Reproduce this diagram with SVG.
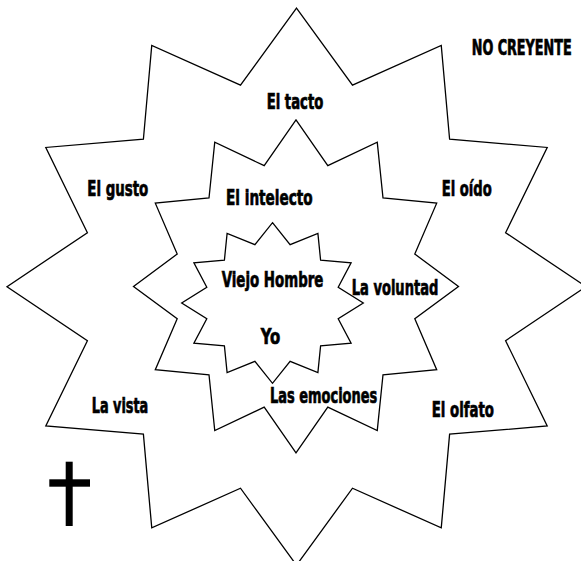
<svg xmlns="http://www.w3.org/2000/svg" width="581" height="561" viewBox="0 0 581 561">
  <style>
    .star { fill: #ffffff; stroke: #000000; stroke-width: 1.3; stroke-linejoin: miter; }
    .lbl { font-family: "Liberation Sans Narrow", "DejaVu Sans Condensed", "Liberation Sans", sans-serif; font-weight: bold; font-size: 22px; fill: #000000; stroke: #000000; stroke-width: 0.7; }
  </style>
  <rect width="581" height="561" fill="#ffffff"/>
  <g id="outer-star">
    <polygon class="star" points="296.5,8.2 352.5,85.2 441.25,45.5 449.6,139.2 547.2,147.45 505.6,232.7 586,286.7 505.6,340.7 547.2,426 449.6,434.2 441.25,527.9 352.5,488.2 296.5,565.2 240.5,488.2 151.75,527.9 143.4,434.2 45.8,426 87.4,340.7 7,286.7 87.4,232.7 45.8,147.45 143.4,139.2 151.75,45.5 240.5,85.2"/>
  </g>
  <g id="middle-star">
    <polygon class="star" points="296,119.9 327.8,165.7 377.25,142.2 383,198 436.7,203.15 414.8,254.05 458.5,286.4 414.8,318.75 436.7,369.65 383,374.8 377.25,430.6 327.8,407.1 296,452.9 264.2,407.1 214.75,430.6 209,374.8 155.3,369.65 177.2,318.75 133.5,286.4 177.2,254.05 155.3,203.15 209,198 214.75,142.2 264.2,165.7"/>
  </g>
  <g id="inner-star">
    <polygon class="star" points="272.5,222.7 290.1,244.6 317.9,233.5 320.6,260.2 351.1,262.85 338.2,287.3 363.3,303 338.2,318.7 351.1,343.15 320.6,345.8 317.9,372.5 290.1,361.4 272.5,383.3 254.9,361.4 227.1,372.5 224.4,345.8 193.9,343.15 206.8,318.7 181.7,303 206.8,287.3 193.9,262.85 224.4,260.2 227.1,233.5 254.9,244.6"/>
  </g>
  <g id="labels">
    <text class="lbl" x="471.7" y="55" textLength="100" lengthAdjust="spacingAndGlyphs">NO CREYENTE</text>
    <text class="lbl" x="266.7" y="109" textLength="56.6" lengthAdjust="spacingAndGlyphs">El tacto</text>
    <text class="lbl" x="87.3" y="195.7" textLength="61" lengthAdjust="spacingAndGlyphs">El gusto</text>
    <text class="lbl" x="441.7" y="195.7" textLength="50" lengthAdjust="spacingAndGlyphs">El oído</text>
    <text class="lbl" x="226" y="205" textLength="86.7" lengthAdjust="spacingAndGlyphs">El intelecto</text>
    <text class="lbl" x="221.7" y="287.3" textLength="101.7" lengthAdjust="spacingAndGlyphs">Viejo Hombre</text>
    <text class="lbl" x="351.7" y="295" textLength="86.7" lengthAdjust="spacingAndGlyphs">La voluntad</text>
    <text class="lbl" x="260.7" y="344" textLength="19.5" lengthAdjust="spacingAndGlyphs">Yo</text>
    <text class="lbl" x="270" y="403.3" textLength="107.3" lengthAdjust="spacingAndGlyphs">Las emociones</text>
    <text class="lbl" x="91.7" y="413.3" textLength="56.6" lengthAdjust="spacingAndGlyphs">La vista</text>
    <text class="lbl" x="431.7" y="416.7" textLength="62.3" lengthAdjust="spacingAndGlyphs">El olfato</text>
  </g>
  <g id="cross" fill="#000000">
    <rect x="65.7" y="461.7" width="7" height="64.3"/>
    <rect x="49.3" y="479.3" width="40.7" height="7.4"/>
  </g>
</svg>
